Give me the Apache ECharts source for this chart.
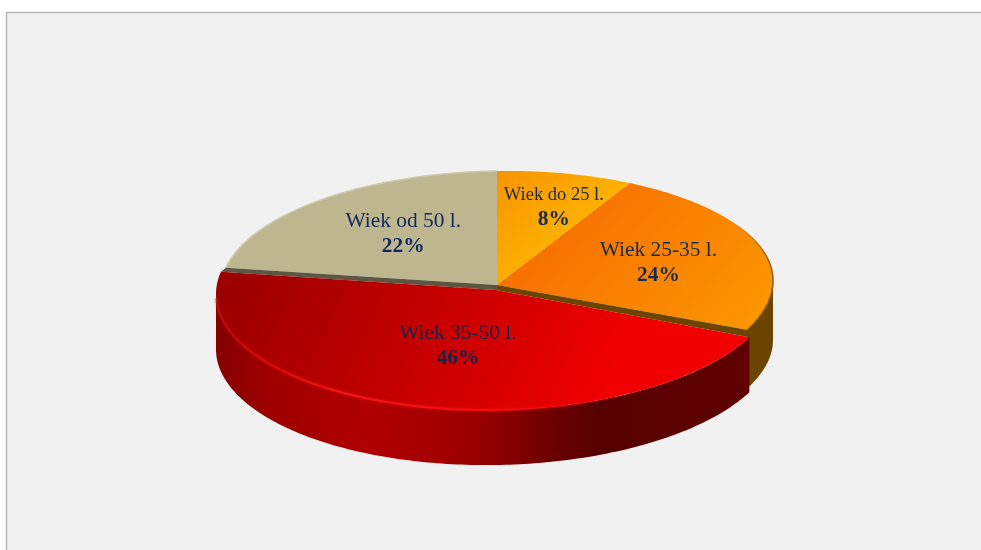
<!DOCTYPE html>
<html>
<head>
<meta charset="utf-8">
<script src="https://cdn.jsdelivr.net/npm/echarts@6/dist/echarts.min.js"></script>
<style>
html, body { margin: 0; padding: 0; background: #fff; }
#main { width: 981px; height: 550px; }
</style>
</head>
<body>
<div id="main"></div>
<script>
var categories = ['Wiek do 25 l.', 'Wiek 25-35 l.', 'Wiek 35-50 l.', 'Wiek od 50 l.'];
var values = [8, 24, 46, 22];

// the chart has no real 3d, so the disc is projected by hand
var backDisc = { cx: 497, cy: 285, rx: 276, ry: 114, depth: 59 };
var frontDisc = { cx: 496, cy: 290, rx: 280, ry: 120, depth: 55 };
var tilt = 0.015; // the original disc leans a little to the right
var frontIndex = 2;
var labelFactor = [[0.83, 0.73], [0.61, 0.78], [0.44, 0.47], [0.52, 0.63]];
var labelColor = ['#172a50', '#172a50', '#1b2148', '#10285f'];
var labelSize = [18.5, 21.4, 21.4, 21.4];
var labelDrop = 2;

var total = values.reduce(function (a, b) { return a + b; }, 0);

function sliceAngles(i) {
  var before = 0;
  for (var k = 0; k < i; k++) before += values[k];
  return [before / total * 360, (before + values[i]) / total * 360];
}

// angle in degrees, clockwise from the top
function pt(disc, deg, drop) {
  var r = deg * Math.PI / 180;
  var dx = disc.rx * Math.sin(r);
  return [disc.cx + dx, disc.cy - disc.ry * Math.cos(r) - tilt * dx + (drop || 0)];
}

function arc(disc, from, to, drop) {
  var pts = [];
  var n = Math.max(2, Math.ceil(Math.abs(to - from)));
  for (var k = 0; k <= n; k++) pts.push(pt(disc, from + (to - from) * k / n, drop));
  return pts;
}

function grad(x, y, x2, y2, colors) {
  var stops = colors.map(function (c) { return { offset: c[0], color: c[1] }; });
  return new echarts.graphic.LinearGradient(x, y, x2, y2, stops, true);
}

var faceFill = [
  grad(497, 171, 560, 240, [[0, '#f89400'], [1, '#fcb000']]),
  grad(590, 190, 750, 330, [[0, '#f77200'], [1, '#fb9600']]),
  grad(250, 240, 600, 400, [[0, '#9c0000'], [0.5, '#c40000'], [1, '#f00000']]),
  '#bdb68f'
];

var wallFill = [
  '#6b4500',
  '#6b4500',
  grad(216, 0, 749, 0, [
    [0, '#840000'], [0.1, '#a00000'], [0.28, '#b00000'], [0.42, '#a40000'],
    [0.52, '#900000'], [0.62, '#700000'], [0.72, '#560000'], [1, '#600000']
  ]),
  '#6b4500'
];

var rimStroke = [
  null,
  grad(730, 0, 773, 0, [[0, 'rgba(150,95,0,0)'], [1, '#8a5a00']]),
  null,
  '#cfcab0'
];

function renderSlice(params, api) {
  var i = params.dataIndex;
  var a = sliceAngles(i);
  var disc = i === frontIndex ? frontDisc : backDisc;
  var children = [];

  // side wall, only the part that faces the viewer
  var from = Math.max(a[0], 90);
  var to = Math.min(a[1], 270);
  if (from < to) {
    var top = arc(disc, from, to, 0);
    var bottom = arc(disc, to, from, disc.depth);
    children.push({
      type: 'polygon',
      z2: i === frontIndex ? 2 : 1,
      shape: { points: top.concat(bottom) },
      style: { fill: wallFill[i] }
    });
  }

  // top face
  var face = [[disc.cx, disc.cy]].concat(arc(disc, a[0], a[1], 0));
  children.push({
    type: 'polygon',
    z2: i === frontIndex ? 5 : 3,
    shape: { points: face },
    style: { fill: faceFill[i] }
  });

  if (rimStroke[i]) {
    children.push({
      type: 'polyline',
      z2: 3,
      shape: { points: arc(disc, a[0], a[1], 0) },
      style: { fill: null, lineWidth: 1.5, stroke: rimStroke[i] }
    });
  }

  if (i === frontIndex) {
    // dark gap left behind the pulled out slice, beige side then orange side
    var gapL = pt(frontDisc, a[1])[0];
    var gapR = pt(frontDisc, a[0])[0];
    var split = (backDisc.cx - gapL) / (gapR - gapL);
    var gap = [pt(backDisc, a[1]), [backDisc.cx, backDisc.cy], pt(backDisc, a[0]),
      pt(frontDisc, a[0]), [frontDisc.cx, frontDisc.cy], pt(frontDisc, a[1])];
    children.push({
      type: 'polygon',
      z2: 4,
      shape: { points: gap },
      style: {
        fill: grad(gapL, 0, gapR, 0, [[0, '#5d5641'], [split, '#5d5641'], [split, '#6b4400'], [1, '#6b4400']])
      }
    });
    // bright bevel along the front edge
    children.push({
      type: 'polyline',
      z2: 6,
      shape: { points: arc(frontDisc, 268, 150, 0) },
      style: {
        fill: null,
        lineWidth: 2,
        shadowBlur: 3,
        shadowColor: 'rgba(245,20,20,0.8)',
        stroke: grad(216, 0, 640, 0, [
          [0, 'rgba(190,0,0,0.5)'], [0.15, 'rgba(225,10,10,0.85)'], [0.3, '#f41616'],
          [0.65, '#f40c0c'], [1, 'rgba(240,0,0,0)']
        ])
      }
    });
  }

  // label sits at a per slice share of the radius on the mid angle
  var mid = (a[0] + a[1]) / 2 * Math.PI / 180;
  var f = labelFactor[i];
  children.push({
    type: 'text',
    z2: 10,
    x: frontDisc.cx + frontDisc.rx * f[0] * Math.sin(mid),
    y: frontDisc.cy - frontDisc.ry * f[1] * Math.cos(mid) + labelDrop,
    style: {
      text: '{a|' + categories[i] + '}\n{b|' + values[i] + '%}',
      align: 'center',
      verticalAlign: 'middle',
      rich: {
        a: { fontFamily: 'Liberation Serif', fontSize: labelSize[i], lineHeight: 25, fill: labelColor[i], align: 'center' },
        b: { fontFamily: 'Liberation Serif', fontSize: 21.4, fontWeight: 'bold', lineHeight: 25, fill: labelColor[i], align: 'center' }
      }
    }
  });

  return { type: 'group', children: children };
}

var myChart = echarts.init(document.getElementById('main'), null, { renderer: 'canvas' });

var option = {
  animation: false,
  backgroundColor: '#fff',
  graphic: [{
    type: 'rect',
    silent: true,
    z: 0,
    shape: { x: 6.5, y: 12.5, width: 1000, height: 600 },
    style: { fill: '#f1f1f1', stroke: '#b8b8b8', lineWidth: 1.5 }
  }],
  series: [{
    type: 'custom',
    coordinateSystem: 'none',
    z: 2,
    silent: true,
    clip: false,
    data: values,
    renderItem: renderSlice
  }]
};

myChart.setOption(option);
</script>
</body>
</html>
